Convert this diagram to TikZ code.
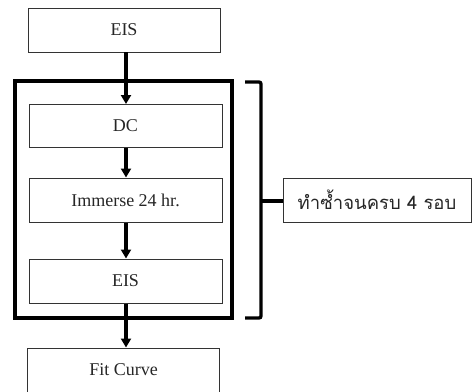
\documentclass[tikz,border=0pt]{standalone}
\usepackage{fontspec}
\setmainfont{Liberation Serif}
\newfontfamily\thaifont[Script=Thai]{Loma}
\usetikzlibrary{arrows.meta}
\begin{document}
\begin{tikzpicture}[x=1pt,y=-1pt,
  box/.style={draw=black!80,line width=1pt,minimum width=192pt,minimum height=44pt,inner sep=0pt,font=\fontsize{18}{20}\selectfont,text=black!85},
  arr/.style={line width=3.3pt,-{Triangle[length=9pt,width=10pt]}},
  frm/.style={line width=3.3pt}]
\useasboundingbox (0,0) rectangle (473,391);
\node[box] (eis1) at (124,30) {EIS};
\node[box,minimum width=193pt,minimum height=43pt] (dc) at (125.5,125.5) {DC};
\node[box,minimum width=193pt] (imm) at (125.5,200) {Immerse 24 hr.};
\node[box,minimum width=193pt] (eis2) at (125.5,281) {EIS};
\node[box] (fit) at (123.5,370) {Fit Curve};
\draw[frm] (15,81) rectangle (232,318);
\node[draw=black!80,line width=1pt,minimum width=188pt,minimum height=44pt,inner sep=0pt,text=black!85,font=\thaifont\fontsize{18.5}{20}\selectfont] (thai) at (377,200) {ทำซ้ำจนครบ 4 รอบ};
\coordinate (bt) at (245,82);
\coordinate (bb) at (245,318);
\coordinate (bm) at (261,201);
\draw[frm,rounded corners=2pt] (bt) -- (261,82) -- (261,318) -- (bb);
\draw[frm] (bm) -- (thai.west |- bm);
\draw[arr] (126,52) -- (126,104);
\draw[arr] (dc.south -| 126,0) -- (imm.north -| 126,0);
\draw[arr] (imm.south -| 126,0) -- (eis2.north -| 126,0);
\draw[arr] (eis2.south -| 126,0) -- (fit.north -| 126,0);
\end{tikzpicture}
\end{document}
